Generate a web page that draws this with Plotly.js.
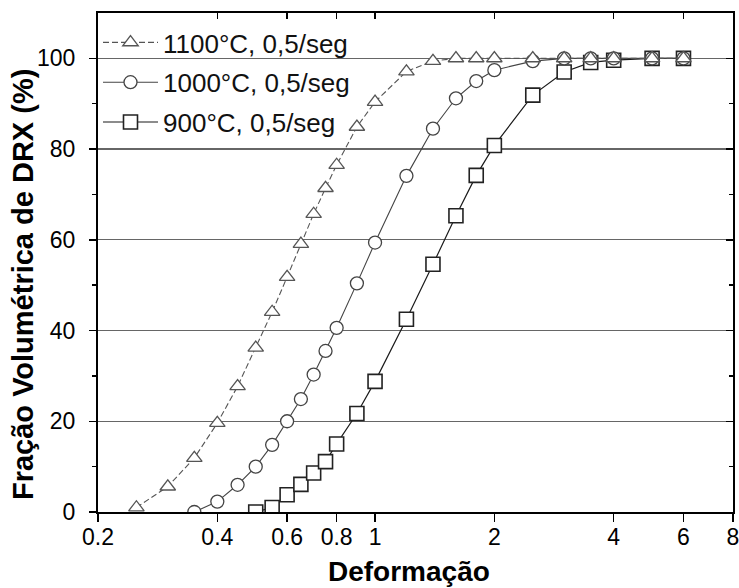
<!DOCTYPE html>
<html><head><meta charset="utf-8">
<script src="https://cdn.plot.ly/plotly-3.0.1.min.js"></script>
<style>html,body{margin:0;padding:0;background:#fff}#chart{width:739px;height:588px}</style>
</head><body><div id="chart"></div>
<script>
const x1100 = [0.25,0.3,0.35,0.4,0.45,0.5,0.55,0.6,0.65,0.7,0.75,0.8,0.9,1.0,1.2,1.4,1.6,1.8,2,2.5,3,3.5,4,5,6];
const y1100 = [1,5.6,11.9,19.6,27.7,36.2,44.1,51.8,59.1,65.7,71.4,76.5,84.9,90.4,97.1,99.4,100,100,100,100,100,100,100,100,100];
const x1000 = [0.35,0.4,0.45,0.5,0.55,0.6,0.65,0.7,0.75,0.8,0.9,1.0,1.2,1.4,1.6,1.8,2,2.5,3,3.5,4,5,6];
const y1000 = [0,2.3,6,10,14.8,20,24.9,30.3,35.5,40.6,50.4,59.4,74.1,84.5,91.2,95,97.4,99.4,100,100,100,100,100];
const x900 = [0.5,0.55,0.6,0.65,0.7,0.75,0.8,0.9,1.0,1.2,1.4,1.6,1.8,2,2.5,3,3.5,4,5,6];
const y900 = [0,1,3.8,6.1,8.6,11.1,15,21.7,28.8,42.5,54.6,65.3,74.2,80.8,91.9,97,99.1,99.6,100,100];
const seriesNames = ['900°C, 0,5/seg','1000°C, 0,5/seg','1100°C, 0,5/seg'];
const xTickVals = [0.2,0.4,0.6,0.8,1,2,4,6,8];
const xTickText = ['0.2','0.4','0.6','0.8','1','2','4','6','8'];
const yTickVals = [0,20,40,60,80,100];
const yMinorVals = [10,30,50,70,90];
const xTitle = 'Deformação';
const yTitle = 'Fração Volumétrica de DRX (%)';

const FONT = 'Liberation Sans, Arial, sans-serif';
const traces = [
  {x:x900, y:y900, name:seriesNames[0], mode:'lines+markers', legendgroup:'a', legendrank:3,
   line:{color:'#1a1a1a', width:1.2},
   marker:{symbol:'square', size:14, color:'#fff', line:{color:'#222', width:1.6}}},
  {x:x1000, y:y1000, name:seriesNames[1], mode:'lines+markers', legendgroup:'b', legendrank:2,
   line:{color:'#444', width:1.1},
   marker:{symbol:'circle', size:13, color:'#fff', line:{color:'#444', width:1.3}}},
  {x:x1100, y:y1100, name:seriesNames[2], mode:'lines+markers', legendgroup:'c', legendrank:1,
   line:{color:'#555', width:1.1, dash:'6px,3px'},
   marker:{symbol:'triangle-up', size:13.5, color:'#fff', line:{color:'#555', width:1.3}}},
  {x:[], y:[], xaxis:'x2', yaxis:'y2', showlegend:false, hoverinfo:'skip', type:'scatter'}
];
const xr = [Math.log10(0.2), Math.log10(8)];
const layout = {
  width:739, height:588,
  margin:{l:98, r:6, t:13, b:76},
  paper_bgcolor:'#fff', plot_bgcolor:'#fff',
  font:{family:FONT, color:'#000'},
  showlegend:true,
  legend:{x:0, y:0.988, xanchor:'left', yanchor:'top', bgcolor:'rgba(0,0,0,0)', itemwidth:55,
          font:{size:26, family:FONT, color:'#111'}, traceorder:'grouped', tracegroupgap:3},
  xaxis:{type:'log', range:xr, tickvals:xTickVals, ticktext:xTickText, ticklabeloverflow:'allow',
         ticks:'outside', ticklen:8, tickwidth:1.5, tickcolor:'#000',
         showline:true, linewidth:2, linecolor:'#000', showgrid:false, zeroline:false,
         tickfont:{size:23, family:FONT, color:'#000'}, ticklabelstandoff:-5},
  xaxis2:{type:'log', range:xr, overlaying:'x', side:'top', tickvals:xTickVals,
          ticks:'inside', ticklen:6, tickwidth:1.5, tickcolor:'#000', showticklabels:false,
          showline:true, linewidth:2, linecolor:'#000', showgrid:false, zeroline:false},
  yaxis:{range:[0,110], tickvals:yTickVals, ticks:'outside', ticklen:7, tickwidth:1.5, tickcolor:'#000',
         minor:{tickvals:yMinorVals, ticks:'outside', ticklen:4, tickwidth:1.5, tickcolor:'#000', showgrid:false},
         showline:true, linewidth:2, linecolor:'#000', showgrid:true, gridcolor:'#666', gridwidth:1.3, zeroline:false,
         tickfont:{size:23, family:FONT, color:'#000'}, ticklabelstandoff:9},
  yaxis2:{range:[0,110], overlaying:'y', side:'right', tickvals:yTickVals, ticks:'inside', ticklen:7, tickwidth:1.5, tickcolor:'#000',
          minor:{tickvals:yMinorVals, ticks:'inside', ticklen:4, tickwidth:1.5, tickcolor:'#000', showgrid:false},
          showticklabels:false, showline:true, linewidth:2, linecolor:'#000', showgrid:false, zeroline:false},
  annotations:[
    {text:'<b>'+xTitle+'</b>', xref:'paper', yref:'paper', x:0.4898, y:-0.1202, xanchor:'center', yanchor:'middle',
     showarrow:false, font:{size:28, family:FONT, color:'#000'}},
    {text:'<b>'+yTitle+'</b>', xref:'paper', yref:'paper', x:-0.118, y:0.455, xanchor:'center', yanchor:'middle',
     textangle:-90, showarrow:false, font:{size:29, family:FONT, color:'#000'}}
  ]
};
Plotly.newPlot('chart', traces, layout, {displayModeBar:false, staticPlot:true});
</script></body></html>
